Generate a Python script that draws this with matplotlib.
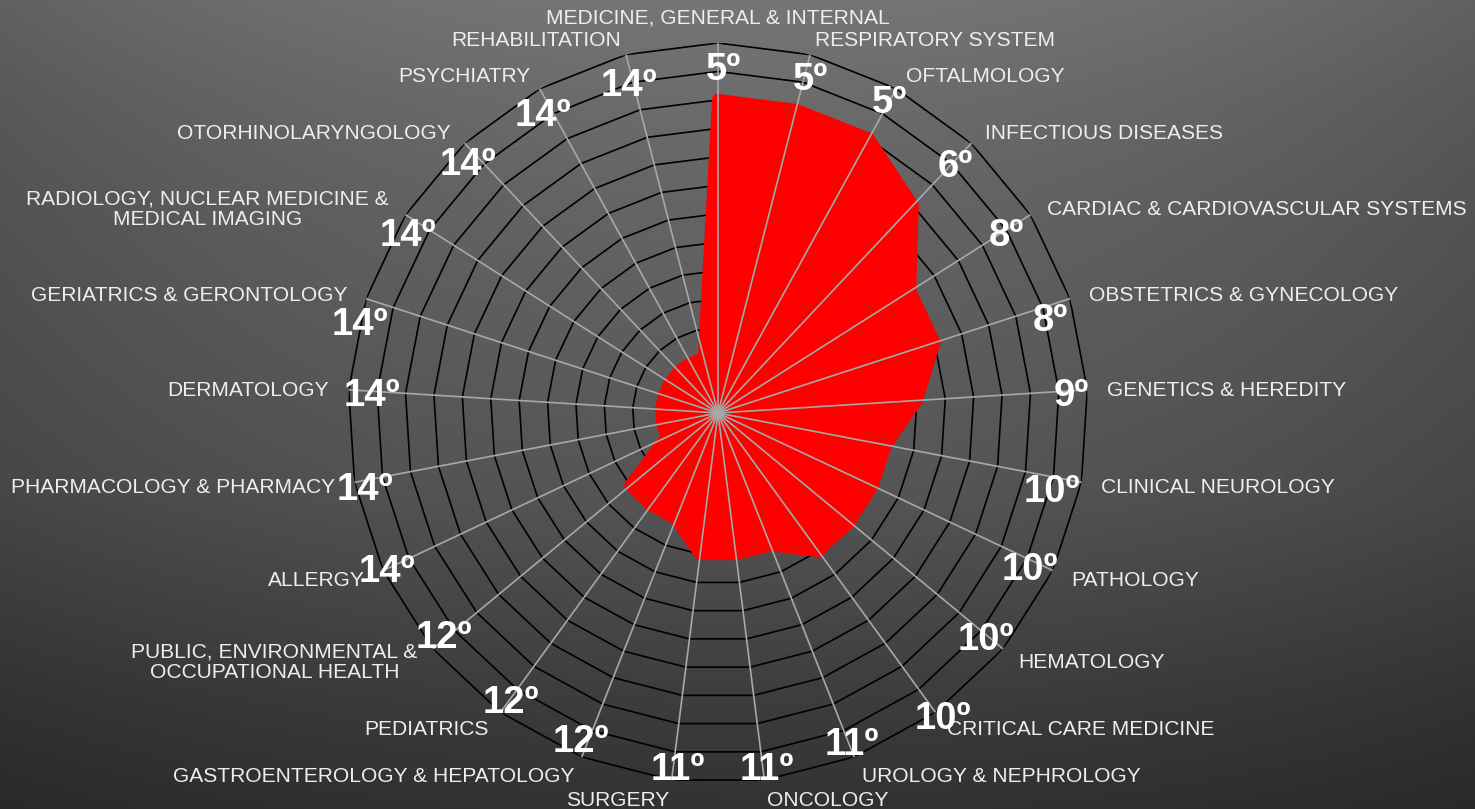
import numpy as np
import matplotlib
matplotlib.use("Agg")
import matplotlib.pyplot as plt

plt.rcParams['font.family'] = ['Liberation Sans', 'DejaVu Sans']

# ---------------- data ----------------
categories = [
    "MEDICINE, GENERAL & INTERNAL",
    "RESPIRATORY SYSTEM",
    "OFTALMOLOGY",
    "INFECTIOUS DISEASES",
    "CARDIAC & CARDIOVASCULAR SYSTEMS",
    "OBSTETRICS & GYNECOLOGY",
    "GENETICS & HEREDITY",
    "CLINICAL NEUROLOGY",
    "PATHOLOGY",
    "HEMATOLOGY",
    "CRITICAL CARE MEDICINE",
    "UROLOGY & NEPHROLOGY",
    "ONCOLOGY",
    "SURGERY",
    "GASTROENTEROLOGY & HEPATOLOGY",
    "PEDIATRICS",
    "PUBLIC, ENVIRONMENTAL &\nOCCUPATIONAL HEALTH",
    "ALLERGY",
    "PHARMACOLOGY & PHARMACY",
    "DERMATOLOGY",
    "GERIATRICS & GERONTOLOGY",
    "RADIOLOGY, NUCLEAR MEDICINE &\nMEDICAL IMAGING",
    "OTORHINOLARYNGOLOGY",
    "PSYCHIATRY",
    "REHABILITATION",
]
ranks = [5, 5, 5, 6, 8, 8, 9, 10, 10, 10, 10, 11, 11, 11, 12, 12, 12,
         14, 14, 14, 14, 14, 14, 14, 14]
values = [11, 11, 11, 10, 8, 8, 7, 6, 6, 6, 6, 5, 5, 5, 4, 4, 4,
          2, 2, 2, 2, 2, 2, 2, 2]
n_rings = 13

# layout: pixel offsets (dx right, dy down) of rank labels from outer vertex
rank_label_offsets = [
    (5, 23), (0, 21), (-7, 10), (-16, 20), (-24, 17), (-20, 18), (-16, 2),
    (-30, 6), (-23, -5), (-17, -13), (7, 3), (-2, -16), (2, -14), (6, -14),
    (-1, -19), (10, -13), (11, -15), (4, -3), (10, 4), (23, 2), (-6, 22),
    (2, 17), (3, 18), (3, 23), (3, 27),
]

# ---------------- figure ----------------
W, H = 1475, 809
fig = plt.figure(figsize=(W / 100, H / 100), dpi=100)

# background gradient
bg = fig.add_axes([0, 0, 1, 1])
ys = np.arange(H)[:, None]
xs = np.linspace(-1, 1, W)[None, :]
vert = np.interp(ys, [0, 100, 200, 300, 400, 500, 600, 700, 809],
                 [118, 108, 101, 96, 91, 85, 73, 61, 50])
img = vert * (1 - 0.18 * xs ** 2) / 255.0
bg.imshow(np.dstack([img] * 3), aspect='auto', extent=[0, 1, 0, 1],
          interpolation='bilinear')
bg.set_axis_off()

cx, cy, R = 718, 413, 370
ax = fig.add_axes([(cx - R) / W, (H - cy - R) / H, 2 * R / W, 2 * R / H],
                  projection='polar')
ax.patch.set_alpha(0)
ax.set_theta_zero_location('N')
ax.set_theta_direction(-1)
ax.set_ylim(0, n_rings)
ax.grid(False)
ax.set_xticks([])
ax.set_yticks([])
ax.spines['polar'].set_visible(False)

n = len(categories)
theta = np.arange(n) * 2 * np.pi / n
theta_c = np.append(theta, theta[0] + 2 * np.pi)

# polygon rings
for k in range(1, n_rings + 1):
    ax.plot(theta_c, [k] * (n + 1), color='black', lw=1.2, zorder=2,
            solid_joinstyle='miter')

# red area
vals_c = values + values[:1]
ax.fill(theta_c, vals_c, facecolor='#ff0000', edgecolor='#ff0000',
        lw=8.6, joinstyle='round', zorder=3)

# spokes
for t in theta:
    ax.plot([t, t], [0, n_rings], color='#a8a8a8', lw=1.2, zorder=4)

# category labels
for t, lab in zip(theta, categories):
    s = np.sin(t)
    c = np.cos(t)
    yoff = -1 - 4 * np.clip(2 * c, 0, 1)
    if abs(s) < 1e-6:
        ha, va, off = 'center', 'baseline', (0, 0)
    elif s > 0:
        ha, va, off = 'left', 'center', (0, yoff)
    else:
        ha, va, off = 'right', 'center', (0, yoff)
    ax.annotate(lab, xy=(t, 13.7), xytext=off, textcoords='offset pixels',
                ha=ha, va=va, multialignment='center',
                fontsize=15.1, color='#eeeeee', linespacing=1.1, zorder=5,
                annotation_clip=False)

# rank labels
for t, rk, (dx, dy) in zip(theta, ranks, rank_label_offsets):
    ax.annotate(f"{rk}º", xy=(t, n_rings), xytext=(dx, -dy - 4),
                textcoords='offset pixels', ha='center', va='center',
                fontsize=27.5, fontweight='bold', color='white', zorder=6,
                annotation_clip=False)

fig.savefig('out.png', dpi=100)
